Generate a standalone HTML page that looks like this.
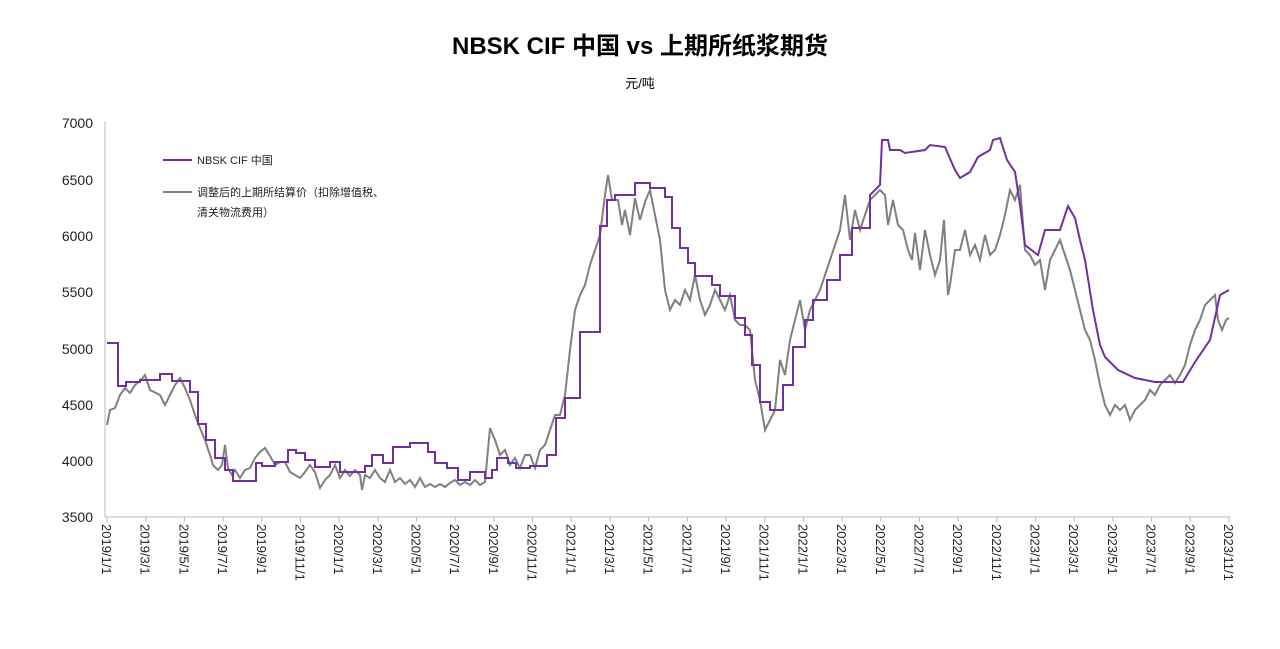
<!DOCTYPE html>
<html><head><meta charset="utf-8"><style>
body{margin:0;background:#fff;}
svg text{font-family:"Liberation Sans","Noto Sans CJK SC",sans-serif;}
</style></head><body>
<svg width="1280" height="644" viewBox="0 0 1280 644" xmlns="http://www.w3.org/2000/svg">
<text x="640" y="54" text-anchor="middle" font-size="24" font-weight="bold" fill="#000">NBSK CIF 中国 vs 上期所纸浆期货</text>
<text x="640" y="88" text-anchor="middle" font-size="13" fill="#000">元/吨</text>
<g font-size="14" fill="#222" text-anchor="end">
<text x="93" y="128">7000</text><text x="93" y="185">6500</text><text x="93" y="241">6000</text><text x="93" y="297">5500</text><text x="93" y="354">5000</text><text x="93" y="410">4500</text><text x="93" y="466">4000</text><text x="93" y="522">3500</text>
</g>
<g stroke="#bbb" stroke-width="1">
<line x1="105" y1="121" x2="105" y2="517"/>
<line x1="105" y1="517" x2="1230" y2="517"/>
</g>
<g id="ticks" stroke="#bbb"></g>
<g id="xl" font-size="13" fill="#222"></g>
<polyline fill="none" stroke="#808080" stroke-width="2" points="107,425 110,410 115,408 120,395 125,388 130,393 135,385 140,381 145,375 150,390 160,395 165,405 170,395 175,385 180,378 185,388 190,400 195,415 200,428 205,440 210,455 213,465 218,470 222,465 225,445 228,468 232,475 235,470 240,478 245,470 250,468 255,458 260,452 265,448 270,456 275,465 280,462 285,462 290,472 300,478 305,472 310,465 315,472 320,488 325,480 330,475 335,465 340,478 345,470 350,476 355,470 360,475 362,490 365,475 370,478 375,470 380,478 385,482 390,470 395,482 400,478 405,484 410,480 415,487 420,478 425,487 430,484 435,487 440,484 445,487 450,483 455,480 460,485 465,482 470,485 475,480 480,485 485,482 490,428 495,440 500,455 505,450 510,465 515,458 520,468 525,455 530,455 535,468 540,450 545,445 550,430 555,415 560,415 565,395 570,350 575,310 580,295 585,285 590,265 595,250 600,235 605,195 608,175 612,200 618,200 622,225 625,210 630,235 635,198 640,220 645,202 650,190 655,215 660,240 665,290 670,310 675,300 680,305 685,290 690,300 695,275 700,300 705,315 710,305 715,290 720,300 725,310 730,295 735,320 740,325 745,325 750,330 755,380 760,400 765,430 770,420 775,410 780,360 785,375 790,340 795,320 800,300 805,330 810,310 815,300 820,290 825,275 830,260 835,245 840,230 845,195 850,240 855,210 860,230 865,215 870,200 875,195 880,190 885,195 888,225 893,200 898,225 903,230 908,250 912,260 915,233 920,270 925,230 930,255 935,275 940,260 944,220 948,295 950,285 955,250 960,250 965,230 970,255 975,245 980,260 985,235 990,255 995,250 1000,235 1005,215 1010,190 1015,200 1020,185 1025,250 1030,255 1035,265 1040,260 1045,290 1050,260 1055,250 1060,240 1065,255 1070,270 1075,290 1080,310 1085,330 1090,340 1095,360 1100,385 1105,405 1110,415 1115,405 1120,410 1125,405 1130,420 1135,410 1140,405 1145,400 1150,390 1155,395 1160,385 1165,380 1170,375 1175,383 1180,375 1185,365 1190,345 1195,330 1200,320 1205,305 1210,300 1215,295 1218,320 1222,330 1226,320 1229,318"/>
<polyline fill="none" stroke="#7030a0" stroke-width="2" points="107,343 118,343 118,386 126,386 126,382 140,382 140,380 160,380 160,374 172,374 172,381 190,381 190,392 198,392 198,424 206,424 206,440 215,440 215,458 225,458 225,470 233,470 233,481 256,481 256,463 262,463 262,466 275,466 275,462 288,462 288,450 296,450 296,453 305,453 305,460 315,460 315,467 330,467 330,462 340,462 340,472 365,472 365,466 372,466 372,455 383,455 383,463 393,463 393,447 410,447 410,443 428,443 428,452 435,452 435,463 447,463 447,468 458,468 458,480 470,480 470,472 485,472 485,478 492,478 492,470 497,470 497,458 508,458 508,463 516,463 516,468 530,468 530,466 547,466 547,455 556,455 556,418 565,418 565,398 580,398 580,332 600,332 600,226 607,226 607,200 615,200 615,195 635,195 635,183 650,183 650,188 665,188 665,197 672,197 672,228 680,228 680,248 688,248 688,263 695,263 695,276 712,276 712,285 720,285 720,296 735,296 735,318 745,318 745,335 752,335 752,365 760,365 760,402 770,402 770,410 783,410 783,385 793,385 793,347 805,347 805,320 813,320 813,300 827,300 827,280 840,280 840,255 852,255 852,228 870,228 870,195 880,185 882,140 888,140 890,150 900,150 905,153 925,150 930,145 945,147 955,170 960,178 970,172 978,157 990,150 993,140 1000,138 1007,160 1015,172 1020,205 1025,245 1038,255 1045,230 1060,230 1068,206 1075,218 1080,240 1085,260 1093,310 1100,345 1105,357 1118,370 1135,378 1155,382 1183,382 1195,362 1210,340 1220,295 1229,290"/>
<line x1="163" y1="160" x2="192" y2="160" stroke="#7030a0" stroke-width="2"/>
<text x="197" y="164" font-size="11" fill="#222">NBSK CIF 中国</text>
<line x1="163" y1="192" x2="192" y2="192" stroke="#808080" stroke-width="2"/>
<text x="197" y="196" font-size="11" fill="#222">调整后的上期所结算价（扣除增值税、</text>
<text x="197" y="216" font-size="11" fill="#222">清关物流费用）</text>
</svg>
<script>
var labs=[];for(var y=2019;y<=2023;y++)for(var m=1;m<=11;m+=2)labs.push(y+"/"+m+"/1");
var xl=document.getElementById("xl"),tk=document.getElementById("ticks"),ns="http://www.w3.org/2000/svg";
labs.forEach(function(l,i){var x=107+i*(1229-107)/29;
var t=document.createElementNS(ns,"text");t.setAttribute("transform","translate("+(x-5)+",524) rotate(90)");t.textContent=l;xl.appendChild(t);
var ln=document.createElementNS(ns,"line");ln.setAttribute("x1",x);ln.setAttribute("x2",x);ln.setAttribute("y1",517);ln.setAttribute("y2",522);tk.appendChild(ln);});
</script>
</body></html>
